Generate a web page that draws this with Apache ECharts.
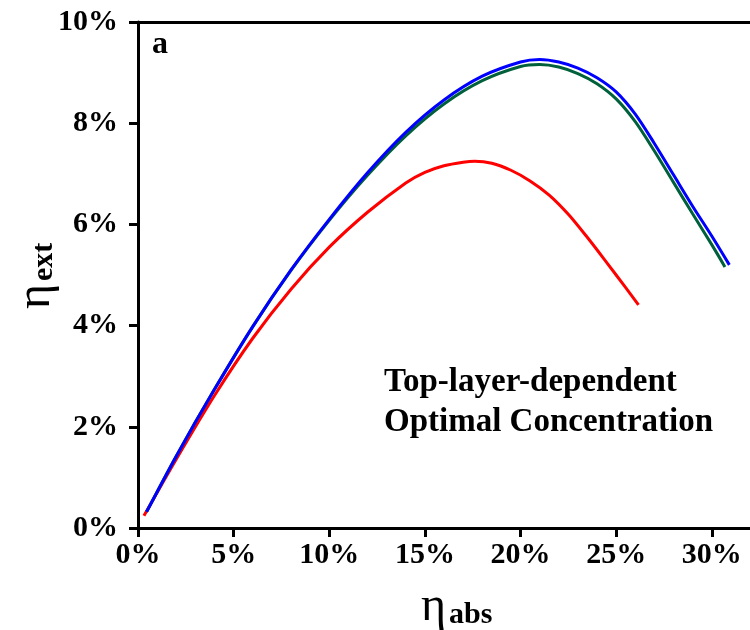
<!DOCTYPE html>
<html>
<head>
<meta charset="utf-8">
<script src="https://cdn.jsdelivr.net/npm/echarts@6/dist/echarts.min.js"></script>
<style>html,body{margin:0;padding:0;background:#fff}#c{width:750px;height:630px}</style>
</head>
<body>
<div id="c"></div>
<script>
// η_abs (%) vs η_ext (%)
var blueX  = [0.45, 2, 4, 6, 8, 10, 12, 14, 16, 18, 20, 21, 22, 23, 24, 25, 26, 27, 28, 29, 30, 30.92];
var blueY  = [0.32, 1.42, 2.74, 3.98, 5.10, 6.10, 7.02, 7.82, 8.46, 8.93, 9.21, 9.26, 9.21, 9.09, 8.90, 8.62, 8.18, 7.60, 6.98, 6.36, 5.77, 5.20];
var greenX = [0.45, 2, 4, 6, 8, 10, 12, 14, 16, 18, 20, 21, 22, 23, 24, 25, 26, 27, 28, 29, 30, 30.69];
var greenY = [0.32, 1.42, 2.74, 3.98, 5.09, 6.08, 6.97, 7.75, 8.38, 8.84, 9.12, 9.16, 9.11, 8.98, 8.78, 8.48, 8.03, 7.45, 6.83, 6.21, 5.60, 5.16];
var redX   = [0.31, 2, 4, 6, 8, 10, 12, 14, 15, 16, 17, 17.6, 18.5, 19.5, 20.5, 21.5, 22.5, 23.5, 24.5, 25.5, 26.17];
var redY   = [0.24, 1.36, 2.62, 3.75, 4.72, 5.55, 6.24, 6.82, 7.03, 7.16, 7.23, 7.25, 7.21, 7.07, 6.86, 6.58, 6.20, 5.74, 5.25, 4.75, 4.41];
var xTicks = [0, 5, 10, 15, 20, 25, 30];
var panelLabel = 'a';
var noteLines = ['Top-layer-dependent', 'Optimal Concentration'];

function pairs(xs, ys) { return xs.map(function (x, i) { return [x, ys[i]]; }); }

var FONT = "'Liberation Serif','Times New Roman',serif";
var chart = echarts.init(document.getElementById('c'));
var axisLabelStyle = { fontFamily: FONT, fontWeight: 'bold', fontSize: 30, color: '#000' };
chart.setOption({
  animation: false,
  backgroundColor: '#fff',
  grid: { left: 138, top: 22, width: 614, height: 506, containLabel: false },
  xAxis: [{
    type: 'value', min: 0, max: 32, interval: 5,
    axisLine: { show: true, onZero: false, lineStyle: { color: '#000', width: 3 } },
    axisTick: { show: true, length: 9, lineStyle: { color: '#000', width: 3 }, customValues: xTicks },
    axisLabel: Object.assign({ margin: 12, formatter: '{value}%', customValues: xTicks }, axisLabelStyle),
    splitLine: { show: false }
  }, {
    type: 'value', min: 0, max: 32, position: 'top',
    axisLine: { show: true, onZero: false, lineStyle: { color: '#000', width: 3 } },
    axisTick: { show: false }, axisLabel: { show: false }, splitLine: { show: false }
  }],
  yAxis: {
    type: 'value', min: 0, max: 10, interval: 2,
    axisLine: { show: true, onZero: false, lineStyle: { color: '#000', width: 3 } },
    axisTick: { show: true, length: 9, lineStyle: { color: '#000', width: 3 } },
    axisLabel: Object.assign({ margin: 20, formatter: '{value}%' }, axisLabelStyle),
    splitLine: { show: false }
  },
  series: [
    { type: 'line', data: pairs(redX, redY), smooth: 0.3, showSymbol: false,
      lineStyle: { color: '#ff0000', width: 3 }, z: 2 },
    { type: 'line', data: pairs(greenX, greenY), smooth: 0.3, showSymbol: false,
      lineStyle: { color: '#00603c', width: 3 }, z: 3 },
    { type: 'line', data: pairs(blueX, blueY), smooth: 0.3, showSymbol: false,
      lineStyle: { color: '#0000ff', width: 3 }, z: 4 }
  ],
  graphic: [
    { type: 'text', left: 152, top: 29,
      style: { text: panelLabel, font: 'bold 32px ' + FONT, fill: '#000' } },
    { type: 'text', left: 384, top: 362,
      style: { text: noteLines.join('\n'), font: 'bold 33px ' + FONT, lineHeight: 40, fill: '#000' } },
    { type: 'group', left: 421, top: 583, children: [
      { type: 'text', x: 0, y: 0, style: { text: 'η', font: '48px ' + FONT, fill: '#000' } },
      { type: 'text', x: 28, y: 17, style: { text: 'abs', font: 'bold 30px ' + FONT, fill: '#000' } }
    ]},
    { type: 'group', x: 12, y: 309, rotation: Math.PI / 2, children: [
      { type: 'text', x: 0, y: 0, style: { text: 'η', font: '48px ' + FONT, fill: '#000' } },
      { type: 'text', x: 28, y: 17, style: { text: 'ext', font: 'bold 30px ' + FONT, fill: '#000' } }
    ]}
  ]
});
</script>
</body>
</html>
